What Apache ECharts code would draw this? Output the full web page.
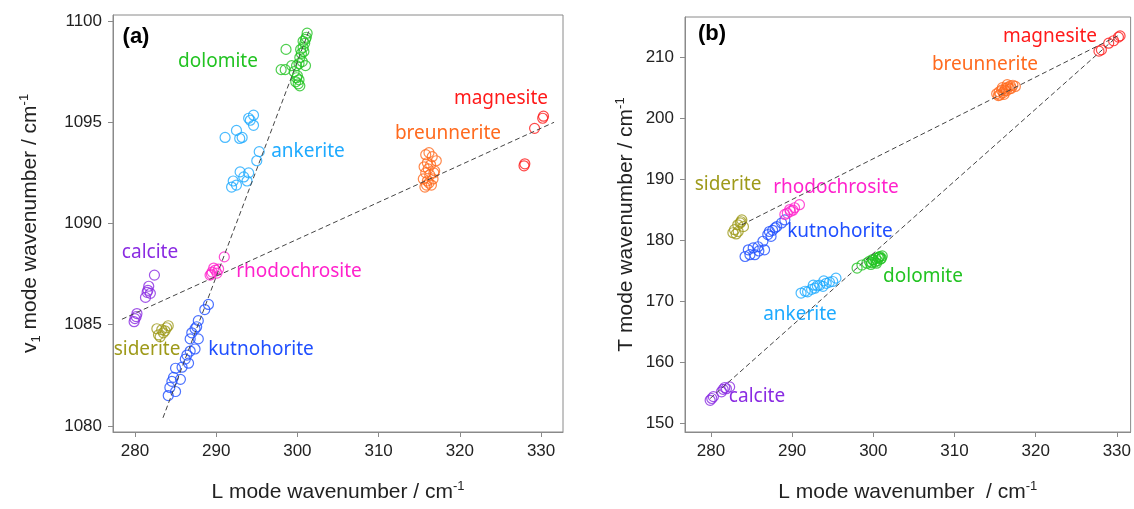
<!DOCTYPE html>
<html>
<head>
<meta charset="utf-8">
<script src="https://cdn.jsdelivr.net/npm/echarts@6/dist/echarts.min.js"></script>
<style>
  html, body { margin: 0; padding: 0; background: #fff; }
  #main { width: 1134px; height: 509px; }
</style>
</head>
<body>
<div id="main"></div>
<script>
// ---- panel (a): L mode vs v1 mode ----
var dolomiteA = [[301.2,1099.4],[301.0,1099.1],[300.9,1098.9],[300.7,1098.7],[300.8,1098.5],[300.5,1098.4],[300.3,1098.2],[300.6,1098.0],[301.0,1097.8],[300.2,1097.9],[299.9,1097.8],[299.3,1097.8],[298.5,1097.6],[298.0,1097.6],[298.6,1098.6],[300.0,1097.3],[299.8,1097.0],[300.1,1096.9],[299.9,1097.2],[300.2,1097.1],[300.4,1098.6],[300.7,1099.0],[301.1,1099.2],[299.6,1097.5],[300.3,1096.8]];
var ankeriteA = [[291.1,1094.25],[292.5,1094.6],[292.9,1094.2],[293.2,1094.25],[294.0,1095.2],[294.6,1095.35],[294.6,1094.85],[294.2,1095.1],[295.3,1093.55],[295.0,1093.1],[292.95,1092.55],[294.0,1092.5],[293.8,1092.1],[292.1,1092.1],[291.9,1091.8],[292.5,1091.9],[293.4,1092.3]];
var breunneriteA = [[315.8,1093.4],[316.2,1093.5],[316.6,1093.3],[317.1,1093.1],[316.0,1093.0],[315.6,1092.8],[316.4,1092.9],[316.9,1092.6],[315.8,1092.5],[316.3,1092.4],[316.7,1092.2],[315.5,1092.2],[316.0,1092.1],[316.5,1091.9],[315.7,1091.8],[316.2,1092.0],[316.8,1092.5],[316.1,1092.7],[315.9,1091.9]];
var magnesiteA = [[330.3,1095.3],[330.2,1095.2],[329.2,1094.7],[328.0,1092.95],[327.9,1092.85]];
var calciteA = [[282.4,1087.45],[281.7,1086.9],[281.5,1086.6],[281.3,1086.35],[281.9,1086.55],[281.6,1086.7],[280.25,1085.55],[280.0,1085.3],[279.9,1085.15],[280.15,1085.4]];
var sideriteA = [[282.7,1084.8],[283.9,1084.85],[283.1,1084.4],[283.5,1084.6],[284.1,1084.95],[282.9,1084.5],[283.3,1084.75],[283.7,1084.7]];
var kutnohoriteA = [[289.05,1086.0],[288.6,1085.75],[287.8,1085.2],[287.4,1084.8],[287.0,1084.6],[286.8,1084.3],[287.8,1084.3],[287.4,1083.8],[286.8,1083.7],[286.4,1083.5],[286.6,1083.1],[285.8,1082.9],[285.0,1082.85],[284.75,1082.4],[285.6,1082.3],[284.55,1082.2],[284.3,1081.9],[285.0,1081.7],[284.1,1081.5],[287.6,1084.9],[286.2,1083.3]];
var rhodochrositeA = [[291.0,1088.35],[289.7,1087.8],[290.3,1087.75],[289.25,1087.45],[290.1,1087.55],[289.5,1087.6],[289.9,1087.7],[289.4,1087.5]];
var fitA1 = [[283.45,1080.4],[301.5,1099.6]];
var fitA2 = [[278.4,1085.27],[331.6,1095.0]];

// ---- panel (b): L mode vs T mode ----
var dolomiteB = [[298.0,175.4],[298.6,175.9],[299.2,176.2],[299.5,176.5],[299.8,176.3],[300.0,176.7],[300.3,177.0],[300.5,176.6],[300.7,177.2],[300.9,176.9],[301.1,177.4],[299.7,176.0],[300.2,176.4],[300.6,177.1],[301.0,177.0],[299.9,176.8],[300.4,176.2],[300.8,177.3]];
var ankeriteB = [[291.1,171.3],[291.6,171.6],[291.9,171.5],[292.4,171.9],[292.8,172.1],[293.1,172.5],[293.4,172.6],[293.8,172.4],[294.2,172.9],[294.6,173.1],[295.0,173.2],[295.4,173.75],[292.6,172.6],[293.9,173.3]];
var breunneriteB = [[315.2,204.0],[315.5,204.3],[315.8,204.6],[316.0,204.2],[316.3,204.9],[316.6,205.1],[316.9,205.3],[317.2,205.4],[317.5,205.2],[315.6,203.8],[316.1,203.9],[316.4,204.5],[316.8,204.8],[315.9,205.0],[316.5,205.5],[317.0,204.9],[316.2,204.6],[315.4,203.7]];
var magnesiteB = [[330.4,213.5],[330.2,213.3],[329.6,212.7],[329.0,212.3],[328.1,211.2],[327.8,211.0]];
var calciteB = [[279.9,153.7],[280.1,154.0],[280.3,154.3],[281.3,155.1],[281.5,155.5],[281.7,155.8],[282.3,155.9],[281.9,155.6]];
var sideriteB = [[283.8,183.3],[283.6,182.8],[284.0,182.2],[283.3,182.5],[282.9,181.7],[283.35,181.4],[282.7,181.2],[283.1,181.0],[283.7,183.0]];
var kutnohoriteB = [[289.1,183.3],[288.7,182.8],[288.1,182.2],[287.9,182.0],[287.2,181.4],[287.0,180.9],[287.4,180.6],[286.4,179.8],[286.6,178.4],[285.8,178.9],[285.2,178.7],[284.6,178.4],[284.8,177.6],[284.2,177.3],[285.4,177.6],[285.9,178.2],[287.6,181.6]];
var rhodochrositeB = [[290.9,185.8],[290.3,185.3],[289.7,185.0],[289.4,184.4],[290.1,184.9],[289.1,184.2],[289.8,184.7]];
var fitB1 = [[283.8,182.5],[330.1,213.5]];
var fitB2 = [[279.9,154.0],[329.8,213.1]];

// tick labels
var xTicks = [280, 290, 300, 310, 320, 330];
var yTicksA = [1080, 1085, 1090, 1095, 1100];
var yTicksB = [150, 160, 170, 180, 190, 200, 210];

var C = {
  dolomite: '#22c322', ankerite: '#1eaaff', breunnerite: '#ff6a1e', magnesite: '#ff1a1a',
  calcite: '#8a2be2', siderite: '#9e9a1a', kutnohorite: '#1f4fff', rhodochrosite: '#ff22cc'
};

var chart = echarts.init(document.getElementById('main'));

var axisGray = '#8a8a8a';
var tickFont = { fontFamily: 'Liberation Sans', fontSize: 17, color: '#222' };
var nameRich = {
  n: { fontFamily: 'Liberation Sans', fontSize: 21, color: '#222' },
  sub: { fontFamily: 'Liberation Sans', fontSize: 13, color: '#222', verticalAlign: 'bottom', padding: [12, 0, 0, 0] },
  sup: { fontFamily: 'Liberation Sans', fontSize: 13, color: '#222', verticalAlign: 'top', padding: [0, 0, 12, 0] }
};
function plain (v) { return String(v); }

function xAxis (idx, min, max) {
  return {
    type: 'value', gridIndex: idx, min: min, max: max,
    name: idx === 0 ? '{n|L mode wavenumber / cm}{sup|-1}' : '{n|L mode wavenumber  / cm}{sup|-1}',
    nameLocation: 'middle', nameGap: 48,
    nameTextStyle: { rich: nameRich },
    axisLine: { lineStyle: { color: axisGray } },
    axisTick: { length: 5, lineStyle: { color: axisGray }, customValues: xTicks },
    axisLabel: Object.assign({ customValues: xTicks, margin: 11, formatter: plain }, tickFont),
    splitLine: { show: false }
  };
}
function yAxis (idx, min, max, ticks, name, gap) {
  return {
    type: 'value', gridIndex: idx, min: min, max: max,
    name: name, nameLocation: 'middle', nameGap: gap, nameRotate: 90,
    nameTextStyle: { rich: nameRich },
    axisLine: { lineStyle: { color: axisGray } },
    axisTick: { length: 5, lineStyle: { color: axisGray }, customValues: ticks },
    axisLabel: Object.assign({ customValues: ticks, margin: 11, formatter: plain }, tickFont),
    splitLine: { show: false }
  };
}

function pts (name, data, g) {
  return {
    name: name, type: 'scatter', xAxisIndex: g, yAxisIndex: g, data: data,
    symbol: 'circle', symbolSize: 10,
    itemStyle: { color: 'rgba(0,0,0,0)', borderColor: C[name], borderWidth: 1.2 },
    emphasis: { disabled: true }, z: 2
  };
}
function fit (data, g) {
  return {
    type: 'line', xAxisIndex: g, yAxisIndex: g, data: data, symbol: 'none',
    lineStyle: { color: '#444', width: 1, type: [5, 3] }, silent: true, z: 3
  };
}

function lbl (text, x, y, color, bold) {
  return {
    type: 'text', x: x, y: y, silent: true,
    style: {
      text: text, fill: color, align: 'center', verticalAlign: 'middle',
      font: bold ? 'bold 22px "Liberation Sans"' : '19px "Noto Sans"'
    }
  };
}

var option = {
  animation: false,
  grid: [
    { left: 113, top: 15, width: 450, height: 417, show: true, borderColor: axisGray, borderWidth: 1 },
    { left: 685, top: 17, width: 447, height: 415, show: true, borderColor: axisGray, borderWidth: 1 }
  ],
  xAxis: [xAxis(0, 277.3, 332.7), xAxis(1, 276.8, 331.7)],
  yAxis: [
    yAxis(0, 1079.7, 1100.3, yTicksA, '{n|v}{sub|1}{n| mode wavenumber / cm}{sup|-1}', 70),
    yAxis(1, 148.5, 216.6, yTicksB, '{n|T mode wavenumber / cm}{sup|-1}', 46)
  ],
  series: [
    fit(fitA1, 0), fit(fitA2, 0),
    pts('dolomite', dolomiteA, 0), pts('ankerite', ankeriteA, 0),
    pts('breunnerite', breunneriteA, 0), pts('magnesite', magnesiteA, 0),
    pts('calcite', calciteA, 0), pts('siderite', sideriteA, 0),
    pts('kutnohorite', kutnohoriteA, 0), pts('rhodochrosite', rhodochrositeA, 0),
    fit(fitB1, 1), fit(fitB2, 1),
    pts('dolomite', dolomiteB, 1), pts('ankerite', ankeriteB, 1),
    pts('breunnerite', breunneriteB, 1), pts('magnesite', magnesiteB, 1),
    pts('calcite', calciteB, 1), pts('siderite', sideriteB, 1),
    pts('kutnohorite', kutnohoriteB, 1), pts('rhodochrosite', rhodochrositeB, 1)
  ],
  graphic: [
    lbl('(a)', 136, 37, '#000', true),
    lbl('dolomite', 218, 62, C.dolomite),
    lbl('ankerite', 308, 152, C.ankerite),
    lbl('magnesite', 501, 99, C.magnesite),
    lbl('breunnerite', 448, 134, C.breunnerite),
    lbl('calcite', 150, 253, C.calcite),
    lbl('rhodochrosite', 299, 272, C.rhodochrosite),
    lbl('siderite', 147, 350, C.siderite),
    lbl('kutnohorite', 261, 350, C.kutnohorite),
    lbl('(b)', 712, 34, '#000', true),
    lbl('magnesite', 1050, 37, C.magnesite),
    lbl('breunnerite', 985, 65, C.breunnerite),
    lbl('siderite', 728, 185, C.siderite),
    lbl('rhodochrosite', 836, 188, C.rhodochrosite),
    lbl('kutnohorite', 840, 232, C.kutnohorite),
    lbl('dolomite', 923, 277, C.dolomite),
    lbl('ankerite', 800, 315, C.ankerite),
    lbl('calcite', 757, 397, C.calcite)
  ]
};
chart.setOption(option);
</script>
</body>
</html>
